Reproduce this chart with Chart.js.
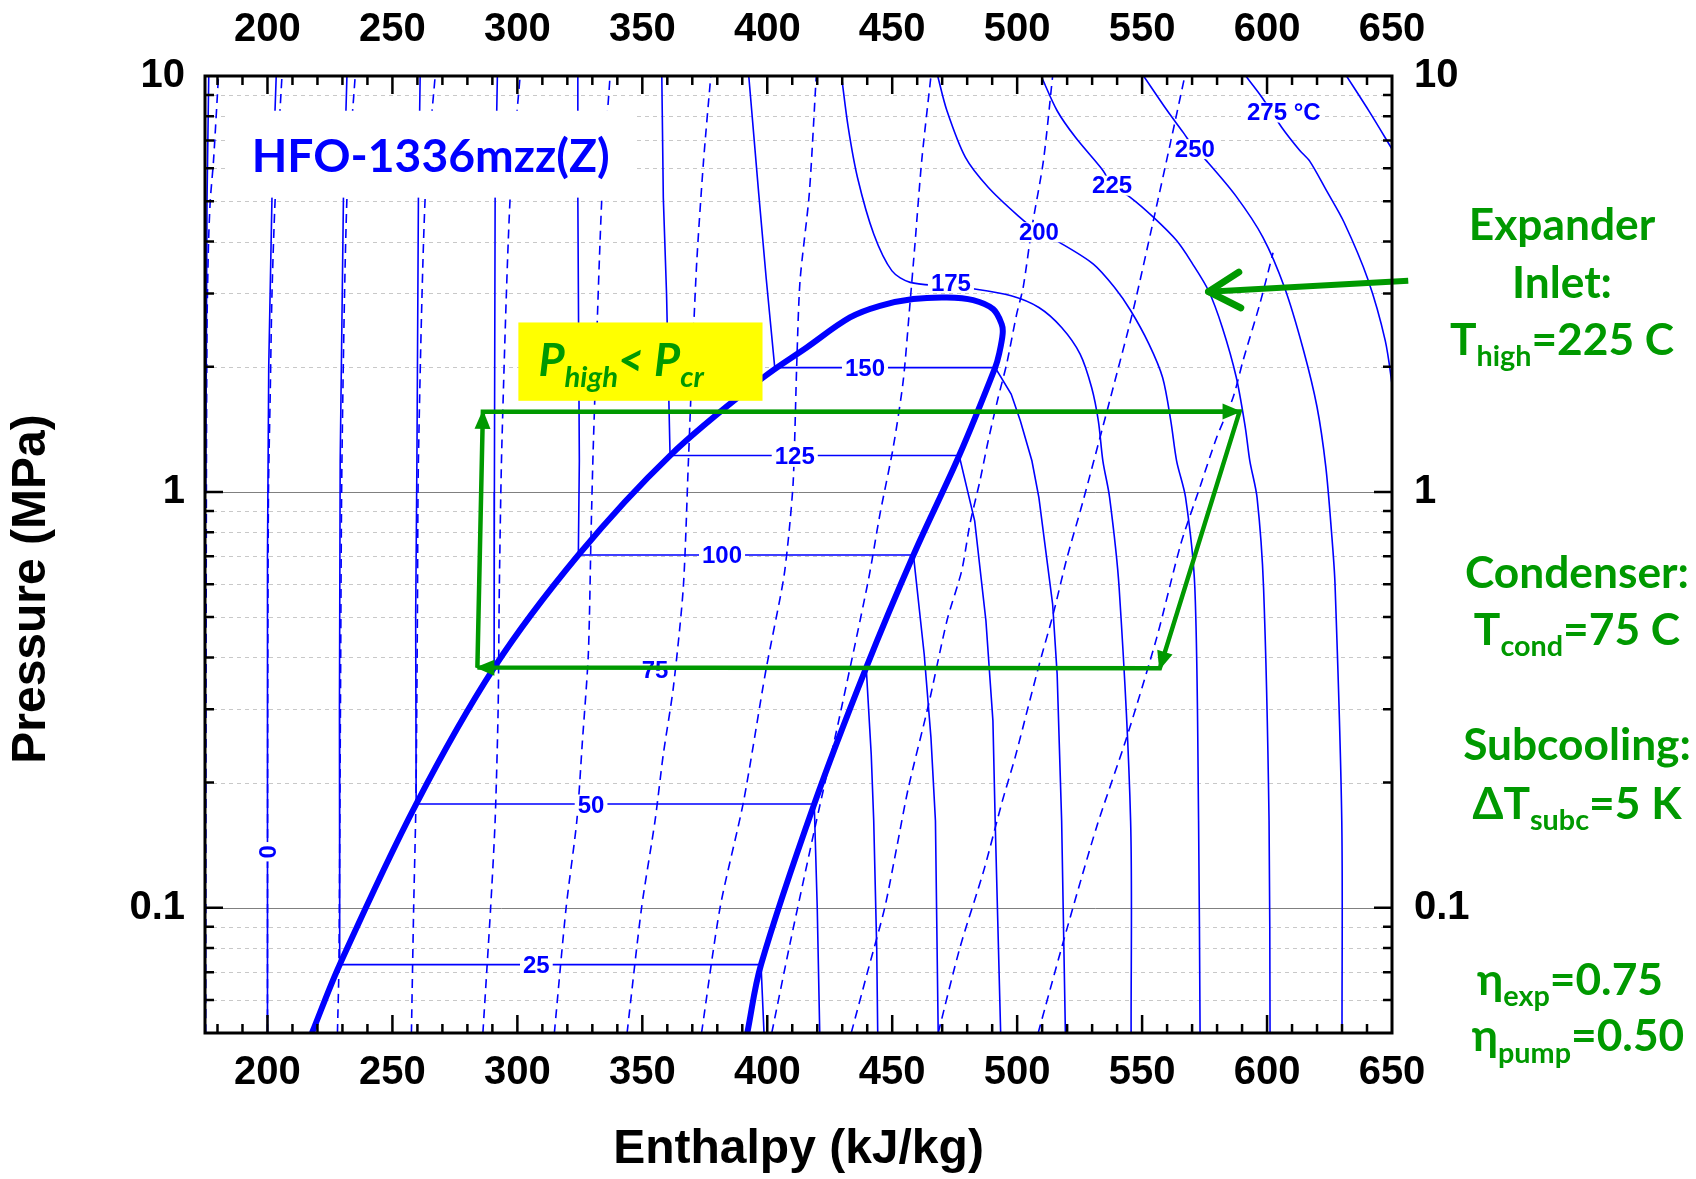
<!DOCTYPE html>
<html>
<head>
<meta charset="utf-8">
<script src="https://cdn.jsdelivr.net/npm/chart.js@4.4.1/dist/chart.umd.min.js"></script>
<style>
html,body{margin:0;padding:0;background:#fff;}
#wrap{width:1696px;height:1179px;position:relative;}
canvas{display:block;}
</style>
</head>
<body>
<div id="wrap"><canvas id="c" width="1696" height="1179"></canvas></div>
<script>
// ---------------- DATA (h in kJ/kg, P in MPa) ----------------
const xTickValues = [200, 250, 300, 350, 400, 450, 500, 550, 600, 650];
const yTickValues = [0.1, 1, 10];

// saturation dome
const domeH = [217.8, 228.9, 259.5, 290.7, 324.4, 361.1, 398.4, 415.8, 433.1, 445.1, 458.4, 471.8, 482.4, 490.4, 493.8, 494.2, 492.8, 491.2, 476.8, 458.5, 439.6, 418.8, 397.5, 392.0];
const domeP = [0.05, 0.073, 0.1776, 0.378, 0.705, 1.223, 1.884, 2.225, 2.627, 2.802, 2.908, 2.934, 2.892, 2.751, 2.532, 2.4, 2.15, 1.99, 1.223, 0.705, 0.378, 0.1776, 0.073, 0.05];

// isotherms (solid)
const tm25H = [176.5, 175.8, 175.3];
const tm25P = [10, 5, 1];
const t0H = [203.5, 201.8, 200.5, 200.0, 200.0];
const t0P = [10, 5.1, 2.0, 0.7, 0.05];
const t25H = [231.8, 230.4, 229.1, 228.8, 228.9, 397.5, 398.7];
const t25P = [10, 5.1, 1.19, 0.3, 0.073, 0.073, 0.05];
const t50H = [261.1, 260.4, 259.8, 259.3, 259.5, 418.8, 420.0, 421.0];
const t50P = [10, 5.1, 1.19, 0.5, 0.1776, 0.1776, 0.1, 0.05];
const t75H = [292.0, 291.1, 290.8, 290.7, 439.6, 441.6, 442.6, 443.8, 444.2];
const t75P = [10, 5.1, 1.0, 0.378, 0.378, 0.234, 0.162, 0.08, 0.05];
const t100H = [324.2, 324.2, 324.8, 324.4, 458.5, 462.8, 465.5, 467.3, 468.4];
const t100P = [10, 5.1, 1.19, 0.705, 0.705, 0.407, 0.2567, 0.162, 0.05];
const t125H = [357.8, 358.4, 359.7, 361.1, 476.8, 483.0, 487.5, 490.3, 491.2, 493.4];
const t125P = [10, 5.1, 2.99, 1.223, 1.223, 0.852, 0.49, 0.2816, 0.162, 0.05];
const t150H = [392.6, 396.6, 399.6, 403.0, 491.2, 497.6, 501.3, 505.9, 508.7, 514.2, 516.0, 517.8, 519.3];
const t150P = [10, 5.2, 3.25, 1.99, 1.99, 1.719, 1.48, 1.188, 0.969, 0.537, 0.365, 0.162, 0.05];
const t175H = [429.7, 432.4, 436.1, 442.6, 449.9, 457.2, 470.0, 483.0, 497.6, 508.7, 517.8, 525.2, 529.8, 532.5, 534.3, 537.0, 540.8, 545.4, 545.6];
const t175P = [10, 7.52, 5.70, 4.17, 3.40, 3.19, 3.13, 3.074, 2.962, 2.776, 2.485, 2.145, 1.782, 1.48, 1.188, 0.969, 0.589, 0.162, 0.05];
const t200H = [468.2, 471.9, 479.3, 488.4, 500.4, 508.7, 516.9, 530.5, 539.0, 545.4, 552.7, 558.2, 561.5, 563.8, 567.4, 571.1, 572.6, 573.2];
const t200P = [10, 8.25, 6.37, 5.40, 4.61, 4.21, 3.98, 3.53, 3.10, 2.73, 2.27, 1.884, 1.48, 1.188, 0.969, 0.589, 0.162, 0.05];
const t225H = [509.6, 516.0, 523.4, 534.4, 538.0, 545.4, 554.6, 563.8, 570.0, 576.6, 582.1, 587.7, 591.3, 593.1, 596.0, 598.6, 600.8, 601.2];
const t225P = [10, 8.25, 7.11, 5.92, 5.45, 5.10, 4.57, 4.02, 3.55, 3.045, 2.485, 1.884, 1.428, 1.188, 0.969, 0.589, 0.162, 0.05];
const t250H = [550.6, 560.1, 566.5, 571.1, 575.8, 587.5, 598.3, 607.0, 614.5, 620.0, 623.5, 625.8, 627.2, 629.9, 630.0];
const t250P = [10, 8.25, 7.31, 6.67, 6.25, 5.15, 4.1, 3.1, 2.2, 1.6, 1.15, 0.8, 0.6, 0.162, 0.05];
const t275H = [591.5, 598.0, 605.9, 613.1, 617.0, 623.8, 630.8, 640.3, 647.3, 650.4];
const t275P = [10, 8.88, 7.52, 6.62, 6.25, 5.30, 4.45, 3.25, 2.31, 1.75];
const t300H = [631.8, 641.0, 650.5];
const t300P = [10, 8.2, 6.6];

// isentropes (dashed)
const s0H = [175.3, 175.5, 175.8, 176.4, 177.1, 178.4, 180.4];
const s0P = [0.05, 0.68, 2.49, 3.94, 5.01, 6.25, 10];
const s1H = [200.0, 200.1, 200.4, 201.1, 201.8, 203.1, 205.8];
const s1P = [0.05, 0.3, 1.0, 1.72, 2.99, 5.1, 10];
const s2H = [228.0, 228.6, 229.2, 229.8, 231.8, 235.1];
const s2P = [0.05, 0.0733, 0.3, 1.19, 5.1, 10];
const s3H = [257.6, 258.5, 259.4, 260.0, 260.4, 263.1, 267.1];
const s3P = [0.05, 0.1, 0.18, 0.5, 1.19, 5.1, 10];
const s4H = [286.2, 289.3, 291.1, 292.3, 292.8, 293.8, 297.1, 301.1];
const s4P = [0.05, 0.1, 0.162, 0.3, 0.6, 1.3, 5.1, 10];
const s5H = [314.8, 319.5, 323.8, 326.0, 328.4, 329.5, 330.4, 333.8, 337.1];
const s5P = [0.05, 0.1, 0.162, 0.25, 0.408, 0.8, 1.3, 5.1, 10];
const s6H = [343.9, 349.7, 355.1, 358.4, 362.4, 366.4, 368.4, 370.0, 371.8, 374.5, 377.4];
const s6P = [0.05, 0.1, 0.162, 0.234, 0.338, 0.589, 1.166, 2.07, 3.59, 6.25, 10];
const s7H = [373.7, 381.1, 390.5, 399.4, 406.4, 408.5, 410.4, 411.8, 413.1, 416.8, 419.6];
const s7P = [0.05, 0.1, 0.18, 0.371, 0.611, 0.777, 1.063, 2.03, 3.21, 5.2, 10];
const s8H = [401.8, 409.1, 419.4, 428.5, 440.4, 445.1, 450.4, 454.4, 457.1, 459.1, 461.8, 465.5];
const s8P = [0.05, 0.082, 0.159, 0.28, 0.611, 0.884, 1.279, 1.849, 2.83, 3.94, 6.25, 10];
const s9H = [433.6, 439.9, 447.0, 451.8, 456.5, 464.6, 471.9, 477.8, 481.1, 485.1, 488.4, 492.4, 495.8, 499.8, 502.4, 505.9, 510.5, 514.2];
const s9P = [0.05, 0.0693, 0.1, 0.1396, 0.1947, 0.309, 0.49, 0.646, 0.837, 1.063, 1.327, 1.686, 2.03, 2.676, 3.10, 4.32, 6.25, 10];
const s10H = [468.4, 477.1, 486.6, 494.0, 499.1, 504.4, 509.1, 514.4, 519.8, 526.4, 534.5, 538.4, 546.4, 554.5, 561.8, 567.1];
const s10P = [0.05, 0.0802, 0.1227, 0.18, 0.229, 0.304, 0.39, 0.508, 0.689, 0.952, 1.45, 1.78, 2.73, 4.49, 7.11, 10];
const s11H = [508.4, 519.8, 531.8, 543.8, 555.8, 565.5, 573.1, 579.8, 586.4, 590.4, 597.1, 602.4];
const s11P = [0.05, 0.0885, 0.1565, 0.2565, 0.445, 0.75, 1.025, 1.35, 1.686, 2.07, 2.83, 3.76];

// isotherm labels
const isoLabelText = ['0', '25', '50', '75', '100', '125', '150', '175', '200', '225', '250', '275 °C'];
const isoLabelH = [200.5, 307.6, 329.5, 355.1, 381.9, 411.0, 439.1, 473.5, 508.7, 538.0, 571.1, 606.7];
const isoLabelP = [0.1364, 0.0727, 0.176, 0.3715, 0.702, 1.214, 1.985, 3.18, 4.21, 5.45, 6.67, 8.17];

// ORC cycle (pump -> evaporator -> expander -> condenser)
const cycleH = [284.0, 286.2, 589.0, 557.1, 284.0];
const cycleP = [0.378, 1.558, 1.56, 0.3766, 0.378];
// pointer to the expander-inlet isotherm
const expArrowH = [656.5, 576.6];
const expArrowP = [3.22, 3.03];

// ---------------- STYLE ----------------
const BLUE = '#0000ff';
const GREEN = '#009900';
const SANS = "'Liberation Sans', Arial, sans-serif";
const CAL = "Lato, 'Open Sans', sans-serif";

function pts(H, P) { return H.map((h, i) => ({x: h, y: P[i]})); }

const isotherms = [
  [tm25H, tm25P, 0], [t0H, t0P, 0], [t25H, t25P, 0], [t50H, t50P, 0], [t75H, t75P, 0],
  [t100H, t100P, 0], [t125H, t125P, 0], [t150H, t150P, 0],
  [t175H, t175P, 0.3], [t200H, t200P, 0.3], [t225H, t225P, 0.3], [t250H, t250P, 0.3],
  [t275H, t275P, 0.3], [t300H, t300P, 0.3]
];
const isentropes = [[s0H, s0P], [s1H, s1P], [s2H, s2P], [s3H, s3P], [s4H, s4P], [s5H, s5P],
  [s6H, s6P], [s7H, s7P], [s8H, s8P], [s9H, s9P], [s10H, s10P], [s11H, s11P]];

const datasets = [
  {label: 'expander', data: pts(expArrowH, expArrowP), borderColor: GREEN, borderWidth: 6, clip: false, order: 0},
  {label: 'cycle', data: pts(cycleH, cycleP), borderColor: GREEN, borderWidth: 4.5, order: 1, clip: 0},
  {label: 'dome', data: pts(domeH, domeP), borderColor: BLUE, borderWidth: 6, tension: 0.35, order: 2, clip: 0}
];
isotherms.forEach(([H, P, t]) => datasets.push({label: 'T', data: pts(H, P), borderColor: BLUE, borderWidth: 1.6, tension: t, order: 3, clip: 0}));
isentropes.forEach(([H, P]) => datasets.push({label: 's', data: pts(H, P), borderColor: BLUE, borderWidth: 1.6, borderDash: [9, 6], tension: 0.25, order: 4, clip: 0}));
datasets.forEach(d => { d.showLine = true; d.pointRadius = 0; d.fill = false; });

// ---------------- helpers ----------------
function drawRich(ctx, parts, cx, base, size, family, style, color) {
  const sub = 0.65;
  const ws = parts.map(([t, s]) => { ctx.font = `${style} ${s ? size * sub : size}px ${family}`; return ctx.measureText(t).width; });
  const total = ws.reduce((a, b) => a + b, 0);
  let x = cx - total / 2;
  ctx.fillStyle = color; ctx.textAlign = 'left'; ctx.textBaseline = 'alphabetic';
  parts.forEach(([t, s], i) => {
    ctx.font = `${style} ${s ? size * sub : size}px ${family}`;
    ctx.fillText(t, x, s ? base + size * 0.25 : base);
    x += ws[i];
  });
}
function fitSize(ctx, text, family, style, target) {
  ctx.font = `${style} 100px ${family}`;
  return 100 * target / ctx.measureText(text).width;
}
function arrowHead(ctx, x0, y0, x1, y1, len, hw) {
  const a = Math.atan2(y1 - y0, x1 - x0), c = Math.cos(a), s = Math.sin(a);
  ctx.beginPath();
  ctx.moveTo(x1 + 2 * c, y1 + 2 * s);
  ctx.lineTo(x1 - len * c + hw * s, y1 - len * s - hw * c);
  ctx.lineTo(x1 - len * c - hw * s, y1 - len * s + hw * c);
  ctx.closePath(); ctx.fill();
}

const decor = {
  id: 'decor',
  beforeDatasetsDraw(chart) {
    const {ctx, chartArea: a} = chart; const Y = chart.scales.y;
    ctx.save();
    ctx.lineWidth = 1;
    ctx.strokeStyle = '#c8c8c8'; ctx.setLineDash([4, 4]);
    [0.01, 0.1, 1].forEach(d => { for (let m = 2; m <= 9; m++) {
      const v = m * d; if (v <= 0.05 + 1e-9 || v >= 10) continue;
      const y = Math.round(Y.getPixelForValue(v)) + 0.5;
      ctx.beginPath(); ctx.moveTo(a.left, y); ctx.lineTo(a.right, y); ctx.stroke();
    }});
    ctx.setLineDash([]); ctx.strokeStyle = '#808080';
    [0.1, 1].forEach(v => { const y = Math.round(Y.getPixelForValue(v)) + 0.5;
      ctx.beginPath(); ctx.moveTo(a.left, y); ctx.lineTo(a.right, y); ctx.stroke(); });
    ctx.restore();
  },
  beforeDatasetDraw(chart, args) {
    if (chart.data.datasets[args.index].label !== 'dome') return;
    const {ctx} = chart; const X = chart.scales.x, Y = chart.scales.y;
    ctx.save();
    ctx.font = `bold 24px ${SANS}`; ctx.textAlign = 'center'; ctx.textBaseline = 'middle';
    isoLabelText.forEach((t, i) => {
      const x = X.getPixelForValue(isoLabelH[i]), y = Y.getPixelForValue(isoLabelP[i]);
      const w = ctx.measureText(t).width;
      ctx.save(); ctx.translate(x, y); if (t === '0') ctx.rotate(-Math.PI / 2);
      ctx.fillStyle = '#fff'; ctx.fillRect(-w / 2 - 3, -10, w + 6, 20);
      ctx.fillStyle = BLUE; ctx.fillText(t, 0, 1);
      ctx.restore();
    });
    ctx.restore();
  },
  afterDatasetsDraw(chart) {
    const {ctx, chartArea: a} = chart; const X = chart.scales.x, Y = chart.scales.y;
    ctx.save();
    // title box
    const bx0 = X.getPixelForValue(183.1), bx1 = X.getPixelForValue(346.3);
    const by0 = Y.getPixelForValue(8.25), by1 = Y.getPixelForValue(5.1);
    ctx.fillStyle = '#fff'; ctx.fillRect(bx0, by0, bx1 - bx0, by1 - by0);
    const ts = fitSize(ctx, 'HFO-1336mzz(Z)', CAL, 'bold', 358);
    ctx.font = `bold ${ts}px ${CAL}`; ctx.fillStyle = BLUE; ctx.textAlign = 'center'; ctx.textBaseline = 'alphabetic';
    ctx.fillText('HFO-1336mzz(Z)', X.getPixelForValue(265.3), Y.getPixelForValue(6.44) + ts * 0.36);
    // yellow box
    const yx0 = X.getPixelForValue(300.4), yx1 = X.getPixelForValue(398.1);
    const yy0 = Y.getPixelForValue(2.555), yy1 = Y.getPixelForValue(1.656);
    ctx.fillStyle = '#ffff00'; ctx.fillRect(yx0, yy0, yx1 - yx0, yy1 - yy0);
    drawRich(ctx, [['P', 0], ['high', 1], ['< ', 0], ['P', 0], ['cr', 1]],
      X.getPixelForValue(341.5), Y.getPixelForValue(1.902), 45, CAL, 'italic bold', GREEN);
    // cycle arrowheads
    ctx.fillStyle = GREEN;
    for (let i = 1; i < cycleH.length; i++) {
      arrowHead(ctx, X.getPixelForValue(cycleH[i - 1]), Y.getPixelForValue(cycleP[i - 1]),
        X.getPixelForValue(cycleH[i]), Y.getPixelForValue(cycleP[i]), 17, 8);
    }
    // expander pointer chevron
    const ex0 = X.getPixelForValue(expArrowH[0]), ey0 = Y.getPixelForValue(expArrowP[0]);
    const ex1 = X.getPixelForValue(expArrowH[1]), ey1 = Y.getPixelForValue(expArrowP[1]);
    const ang = Math.atan2(ey1 - ey0, ex1 - ex0);
    ctx.strokeStyle = GREEN; ctx.lineWidth = 7; ctx.lineCap = 'round';
    [0.52, -0.52].forEach(d => { ctx.beginPath(); ctx.moveTo(ex1, ey1);
      ctx.lineTo(ex1 - 36 * Math.cos(ang + d), ey1 - 36 * Math.sin(ang + d)); ctx.stroke(); });
    ctx.lineCap = 'butt';
    // frame + inside ticks
    ctx.strokeStyle = '#000'; ctx.lineWidth = 3;
    ctx.strokeRect(a.left, a.top, a.right - a.left, a.bottom - a.top);
    ctx.lineWidth = 2.5;
    for (let h = 180; h < 650; h += 10) {
      const x = X.getPixelForValue(h), L = h % 50 === 0 ? 18 : 9;
      ctx.beginPath(); ctx.moveTo(x, a.bottom); ctx.lineTo(x, a.bottom - L);
      ctx.moveTo(x, a.top); ctx.lineTo(x, a.top + L); ctx.stroke();
    }
    [0.01, 0.1, 1].forEach(d => { for (let m = 1; m <= 9; m++) {
      const v = m * d; if (v <= 0.05 + 1e-9 || v >= 10) continue;
      const y = Y.getPixelForValue(v), L = m === 1 ? 18 : 9;
      ctx.beginPath(); ctx.moveTo(a.left, y); ctx.lineTo(a.left + L, y);
      ctx.moveTo(a.right, y); ctx.lineTo(a.right - L, y); ctx.stroke();
    }});
    ctx.restore();
  },
  afterDraw(chart) {
    const {ctx} = chart;
    ctx.save();
    // y-axis title
    ctx.translate(32, 589); ctx.rotate(-Math.PI / 2);
    ctx.font = `bold 48px ${SANS}`; ctx.fillStyle = '#000'; ctx.textAlign = 'center'; ctx.textBaseline = 'middle';
    ctx.fillText('Pressure (MPa)', 0, 0);
    ctx.restore();
    ctx.save();
    const s = fitSize(ctx, 'Condenser:', CAL, 'bold', 224);
    const cap = s * 0.72 / 2;
    const lines = [
      [[['Expander', 0]], 1562, 224.5],
      [[['Inlet:', 0]], 1562, 282],
      [[['T', 0], ['high', 1], ['=225 C', 0]], 1562, 339],
      [[['Condenser:', 0]], 1577, 572],
      [[['T', 0], ['cond', 1], ['=75 C', 0]], 1577, 629],
      [[['Subcooling:', 0]], 1577, 744],
      [[['ΔT', 0], ['subc', 1], ['=5 K', 0]], 1577, 803],
      [[['η', 0], ['exp', 1], ['=0.75', 0]], 1570, 979],
      [[['η', 0], ['pump', 1], ['=0.50', 0]], 1578, 1035.5]
    ];
    lines.forEach(([parts, cx, cy]) => drawRich(ctx, parts, cx, cy + cap, s, CAL, 'bold', GREEN));
    ctx.restore();
  }
};

const tickFont = {family: SANS, size: 40, weight: 'bold'};
function xAxis(pos, h, pad, title) {
  return {
    type: 'linear', position: pos, min: 175, max: 650,
    afterBuildTicks: s => { s.ticks = xTickValues.map(v => ({value: v})); },
    afterFit: s => { s.height = h; },
    ticks: {font: tickFont, color: '#000', padding: pad, autoSkip: false, maxRotation: 0, callback: v => String(v)},
    grid: {display: false, drawTicks: false}, border: {display: false},
    title: title ? {display: true, text: title, font: {family: SANS, size: 48, weight: 'bold'}, color: '#000', padding: {top: 0, bottom: 0}} : {display: false}
  };
}
function yAxis(pos, w, pad) {
  return {
    type: 'logarithmic', position: pos, min: 0.05, max: 10,
    afterBuildTicks: s => { s.ticks = yTickValues.map(v => ({value: v})); },
    afterFit: s => { s.width = w; },
    ticks: {font: tickFont, color: '#000', padding: pad, autoSkip: false, callback: v => String(v)},
    grid: {display: false, drawTicks: false}, border: {display: false}
  };
}

new Chart(document.getElementById('c'), {
  type: 'scatter',
  data: {datasets},
  options: {
    responsive: false, animation: false, devicePixelRatio: 1,
    layout: {padding: 0},
    plugins: {legend: {display: false}, tooltip: {enabled: false}},
    elements: {point: {radius: 0}},
    scales: {
      x: xAxis('bottom', 146, 16, 'Enthalpy (kJ/kg)'),
      x2: xAxis('top', 76, 22, null),
      y: yAxis('left', 205, 20),
      y2: yAxis('right', 304, 22)
    }
  },
  plugins: [decor]
});
</script>
</body>
</html>
